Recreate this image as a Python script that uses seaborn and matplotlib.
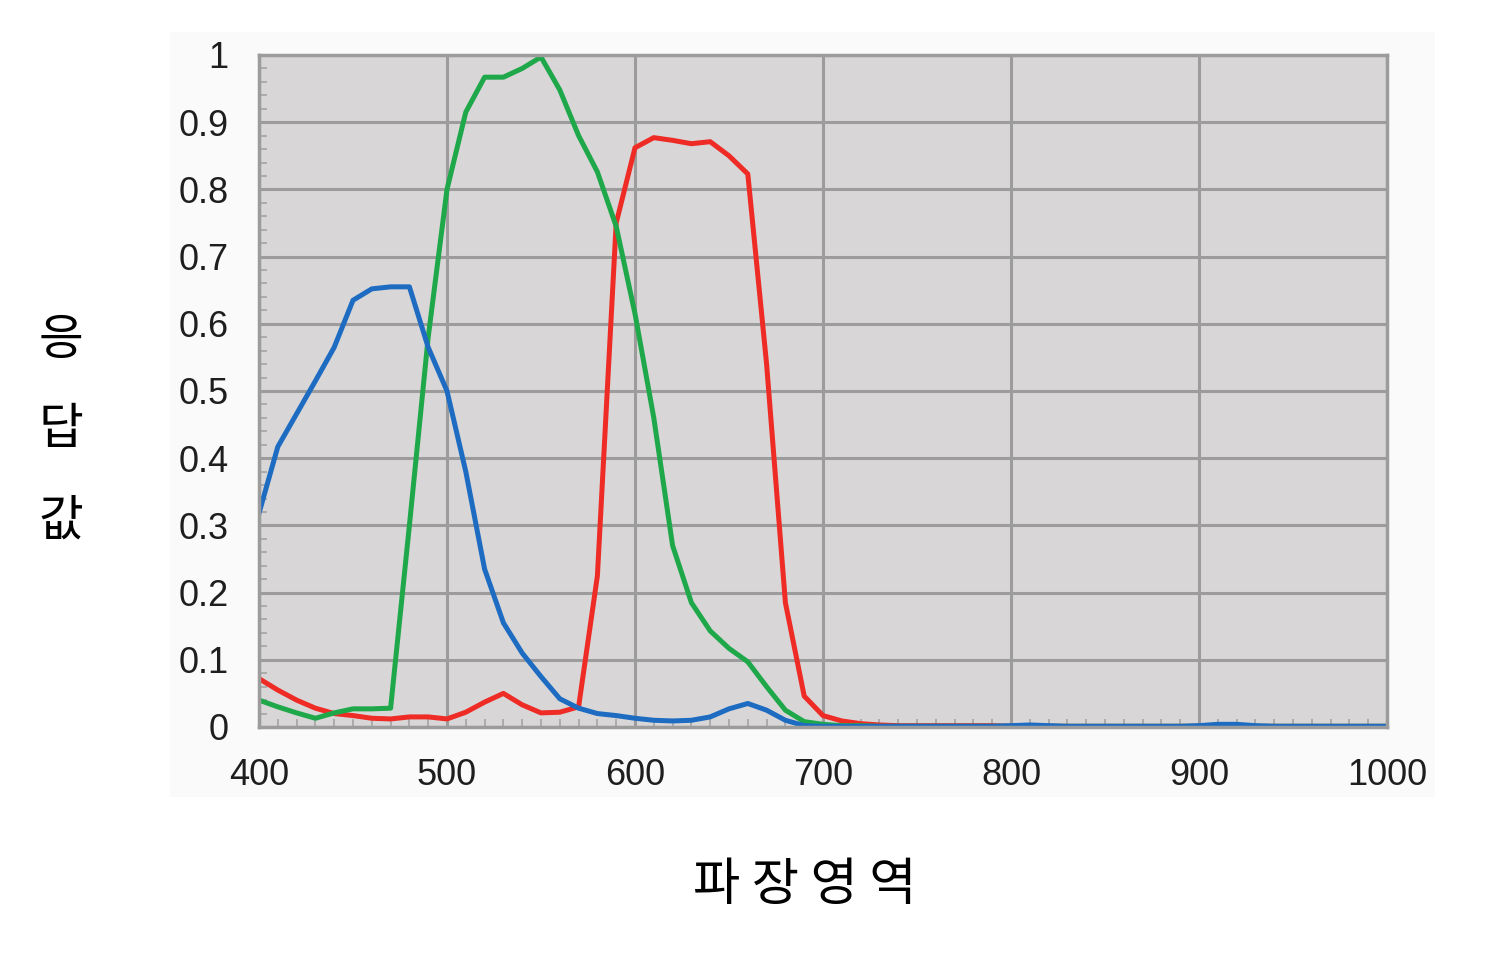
import numpy as np
import pandas as pd
import matplotlib
matplotlib.use('Agg')
import matplotlib.pyplot as plt
import matplotlib.patches as mpatches
from matplotlib.ticker import MultipleLocator
import seaborn as sns

# wavelength grid (nm)
wavelength = list(range(400, 1001, 10))

red = [0.072, 0.055, 0.040, 0.028, 0.020, 0.017, 0.013, 0.012, 0.015, 0.015,
       0.012, 0.022, 0.037, 0.050, 0.033, 0.021, 0.022, 0.030, 0.225, 0.750,
       0.862, 0.877, 0.873, 0.868, 0.871, 0.850, 0.823, 0.540, 0.185, 0.046,
       0.017, 0.009, 0.005, 0.003, 0.002, 0.002, 0.002, 0.002, 0.002, 0.002,
       0.001, 0.001, 0.001, 0.001, 0.001, 0.001, 0.001, 0.001, 0.001, 0.001,
       0.001, 0.001, 0.001, 0.001, 0.001, 0.001, 0.001, 0.001, 0.001, 0.001,
       0.001]
green = [0.040, 0.030, 0.021, 0.013, 0.021, 0.027, 0.027, 0.028, 0.300, 0.580,
         0.800, 0.915, 0.967, 0.967, 0.980, 0.997, 0.948, 0.880, 0.826, 0.745,
         0.615, 0.460, 0.270, 0.185, 0.143, 0.117, 0.097, 0.060, 0.025, 0.008,
         0.004, 0.002, 0.002, 0.001, 0.001, 0.001, 0.001, 0.001, 0.001, 0.001,
         0.001, 0.001, 0.001, 0.001, 0.001, 0.001, 0.001, 0.001, 0.001, 0.001,
         0.001, 0.001, 0.001, 0.001, 0.001, 0.001, 0.001, 0.001, 0.001, 0.001,
         0.001]
blue = [0.318, 0.417, 0.466, 0.515, 0.565, 0.635, 0.652, 0.655, 0.655, 0.565,
        0.500, 0.380, 0.235, 0.155, 0.110, 0.075, 0.042, 0.028, 0.020, 0.017,
        0.013, 0.010, 0.009, 0.010, 0.015, 0.027, 0.035, 0.025, 0.010, 0.002,
        0.001, 0.001, 0.001, 0.001, 0.001, 0.001, 0.001, 0.001, 0.001, 0.001,
        0.002, 0.003, 0.002, 0.001, 0.001, 0.001, 0.001, 0.001, 0.001, 0.001,
        0.002, 0.004, 0.004, 0.002, 0.001, 0.001, 0.001, 0.001, 0.001, 0.001,
        0.001]

x_ticks = [400, 500, 600, 700, 800, 900, 1000]
y_ticks = [0, 0.1, 0.2, 0.3, 0.4, 0.5, 0.6, 0.7, 0.8, 0.9, 1.0]
y_ticklabels = ['0', '0.1', '0.2', '0.3', '0.4', '0.5', '0.6', '0.7', '0.8', '0.9', '1']
ylabel_chars = ['응', '답', '값']
xlabel = '파 장 영 역'

C_RED = '#ee2b25'
C_GREEN = '#1ea84a'
C_BLUE = '#1d6cc2'
C_GRID = '#9c9c9c'

df = pd.DataFrame({
    'wl': wavelength * 3,
    'resp': red + green + blue,
    'ch': ['R'] * len(red) + ['G'] * len(green) + ['B'] * len(blue),
})

plt.rcParams['font.family'] = ['Liberation Sans', 'DejaVu Sans']

fig = plt.figure(figsize=(14.86, 9.56), dpi=100)
fig.patch.set_facecolor('white')
# faint off-white panel behind the chart
fig.patches.append(mpatches.Rectangle((170 / 1486, 1 - 797 / 956), (1435 - 170) / 1486, (797 - 32) / 956,
                                      transform=fig.transFigure, facecolor='#fafafa',
                                      edgecolor='none', zorder=-5))

ax = fig.add_axes([259 / 1486, 1 - 727 / 956, (1387 - 259) / 1486, (727 - 55) / 956])
ax.set_zorder(2)
ax.set_facecolor('#d8d6d7')

sns.lineplot(data=df, x='wl', y='resp', hue='ch', hue_order=['R', 'G', 'B'],
             palette={'R': C_RED, 'G': C_GREEN, 'B': C_BLUE},
             legend=False, ax=ax)
for ln in ax.lines:
    ln.set_linewidth(3.6)
    ln.set_solid_joinstyle('round')

ax.set_xlim(400, 1000)
ax.set_ylim(0, 1)
ax.set_xticks(x_ticks)
ax.set_yticks(y_ticks)
ax.set_yticklabels(y_ticklabels)
ax.xaxis.set_minor_locator(MultipleLocator(10))
ax.yaxis.set_minor_locator(MultipleLocator(0.02))
ax.grid(True, which='major', color=C_GRID, linewidth=2.2)
ax.set_axisbelow(True)
for s in ax.spines.values():
    s.set_color(C_GRID)
    s.set_linewidth(2.5)

ax.tick_params(which='major', length=0, pad=22, labelsize=26, labelcolor='#1e1e1e')
ax.tick_params(which='minor', direction='in', length=6, width=1.3, color='#a8a8a8')
ax.set_xlabel('')
ax.set_ylabel('')

kfont = ['Noto Sans CJK KR', 'DejaVu Sans']
for ch, yc in zip(ylabel_chars, [340, 429, 521]):
    fig.text(61 / 1486, 1 - yc / 956, ch, family=kfont, fontsize=35,
             ha='center', va='center', color='black', zorder=3)
fig.text(805 / 1486, 1 - 885 / 956, xlabel, family=kfont, fontsize=37,
         ha='center', va='center', color='black', zorder=3)

fig.savefig('out.png', dpi=100, facecolor='white')
